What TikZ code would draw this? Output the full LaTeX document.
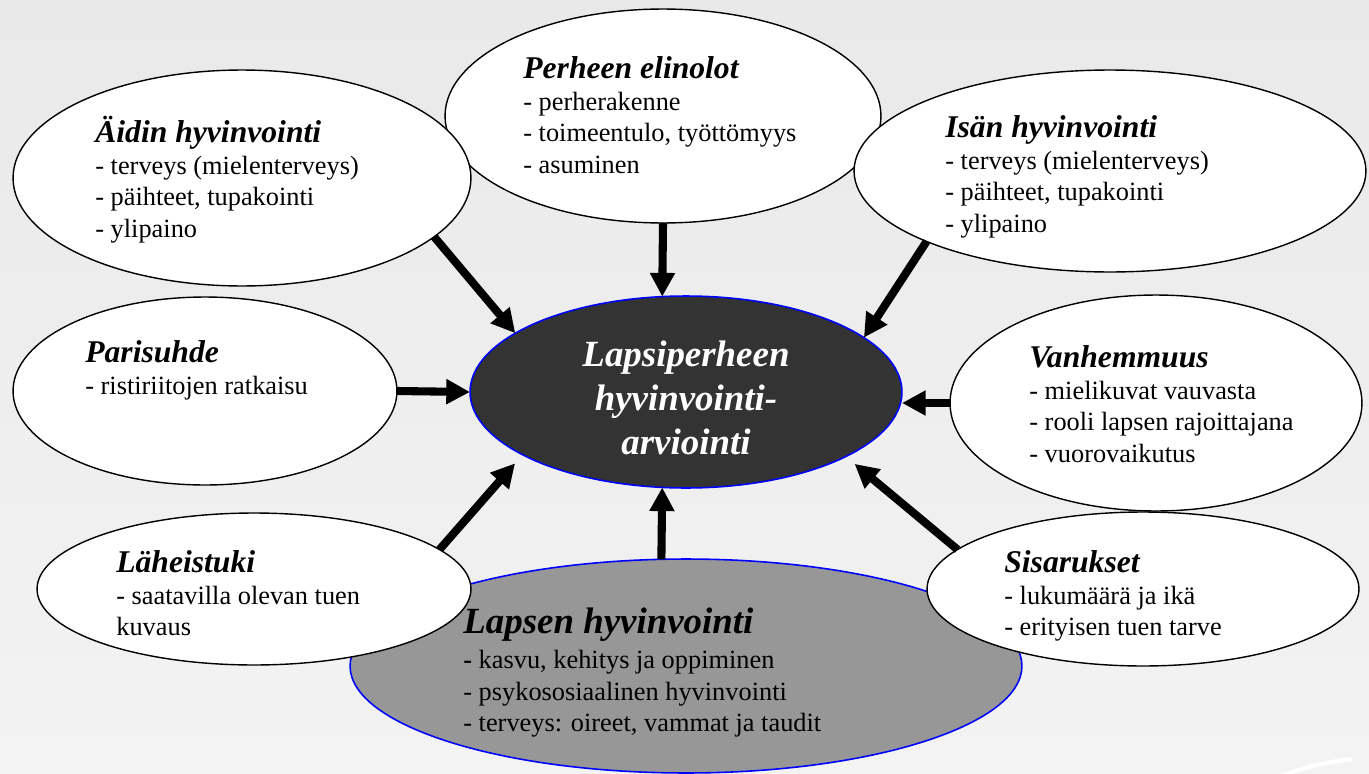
\documentclass[tikz,border=0pt]{standalone}
\usepackage{fontspec}
\setmainfont{Liberation Serif}
\usetikzlibrary{arrows.meta,shapes.geometric}
\definecolor{tausta}{HTML}{E9E9E9}
\definecolor{tausta2}{HTML}{F3F3F3}
\definecolor{tumma}{HTML}{333333}
\definecolor{harmaa}{HTML}{979797}
\newcommand{\otsikko}[1]{{\fontsize{18}{18}\selectfont\bfseries\itshape\rule{0pt}{17pt}#1}}
\newcommand{\isootsikko}[1]{{\fontsize{21}{21}\selectfont\bfseries\itshape\rule{0pt}{20pt}#1}}
\begin{document}
\begin{tikzpicture}[x=0.02cm,y=-0.02cm,
	pallo/.style={ellipse,draw=black,line width=0.8pt,fill=white,inner sep=0pt,outer sep=0pt},
	keski/.style={ellipse,draw=blue,line width=0.9pt,inner sep=0pt,outer sep=0pt},
	teksti/.style={anchor=north west,align=left,inner sep=0pt,font=\fontsize{15}{18.1}\selectfont},
	nuoli/.style={line width=4.6pt,-{Triangle[length=13.5pt,width=13.5pt]}}]
	\useasboundingbox (0,0) rectangle (1369,774);
	\shade [top color=tausta,bottom color=tausta2] (0,0) rectangle (1369,774);
	\draw [white,line width=2.5pt] (1283,776) .. controls (1305,766) and (1330,762) .. (1352,759);
	% pallot
	\node [pallo,minimum width=8.72cm,minimum height=4.28cm] (perheen) at (663,116) {};
	\node [pallo,minimum width=9.16cm,minimum height=4.32cm] (aidin) at (242,178) {};
	\node [pallo,minimum width=10.24cm,minimum height=4.04cm] (isan) at (1110,171) {};
	\node [pallo,minimum width=7.68cm,minimum height=3.76cm] (parisuhde) at (205,391) {};
	\node [pallo,minimum width=8.24cm,minimum height=4.32cm] (vanhemmuus) at (1156,403) {};
	\node [keski,fill=harmaa,minimum width=13.44cm,minimum height=4.28cm] (lapsen) at (686,666) {};
	\node [pallo,minimum width=8.68cm,minimum height=3.04cm] (laheistuki) at (254,589) {};
	\node [pallo,minimum width=8.64cm,minimum height=3.08cm] (sisarukset) at (1143,589) {};
	\node [keski,fill=tumma,minimum width=8.64cm,minimum height=3.84cm] (centre) at (686,392) {};
	% tekstit
	\node [teksti] (perheenT) at (523,48) {\otsikko{Perheen elinolot}\\- perherakenne\\- toimeentulo, työttömyys\\- asuminen};
	\node [teksti] (aidinT) at (95,112) {\otsikko{Äidin hyvinvointi}\\- terveys (mielenterveys)\\- päihteet, tupakointi\\- ylipaino};
	\node [teksti] (isanT) at (945,107) {\otsikko{Isän hyvinvointi}\\- terveys (mielenterveys)\\- päihteet, tupakointi\\- ylipaino};
	\node [teksti] (parisuhdeT) at (85,332) {\otsikko{Parisuhde}\\- ristiriitojen ratkaisu};
	\node [teksti] (vanhemmuusT) at (1029,337) {\otsikko{Vanhemmuus}\\- mielikuvat vauvasta\\- rooli lapsen rajoittajana\\- vuorovaikutus};
	\node [teksti] (laheistukiT) at (116,542) {\otsikko{Läheistuki}\\- saatavilla olevan tuen\\kuvaus};
	\node [teksti] (sisaruksetT) at (1004,542) {\otsikko{Sisarukset}\\- lukumäärä ja ikä\\- erityisen tuen tarve};
	\node [teksti] (lapsenT) at (463,598) {\isootsikko{Lapsen hyvinvointi}\\[1.7pt]\textbf{-} kasvu, kehitys ja oppiminen\\- psykososiaalinen hyvinvointi\\- terveys: oireet, vammat ja taudit};
	\node [align=center,inner sep=0pt,text=white,font=\fontsize{21}{25}\selectfont\bfseries\itshape] (centreT) at (686,398) {Lapsiperheen\\hyvinvointi-\\arviointi};
	% nuolet
	\draw [nuoli] (aidin.-17) -- (centre.161);
	\draw [nuoli] (perheen.south) -- (centre.104);
	\draw [nuoli] (isan.201) -- (centre.17);
	\draw [nuoli] (parisuhde.east) -- (centre.west);
	\draw [nuoli] (vanhemmuus.west) -- (vanhemmuus.west -| centre.east);
	\draw [nuoli,shorten >=6.5pt] (laheistuki.12) -- (centre.201.6);
	\draw [nuoli] (lapsen.103) -- (centre.256);
	\draw [nuoli,shorten >=6.5pt] (sisarukset.168) -- (centre.338.4);
\end{tikzpicture}
\end{document}
